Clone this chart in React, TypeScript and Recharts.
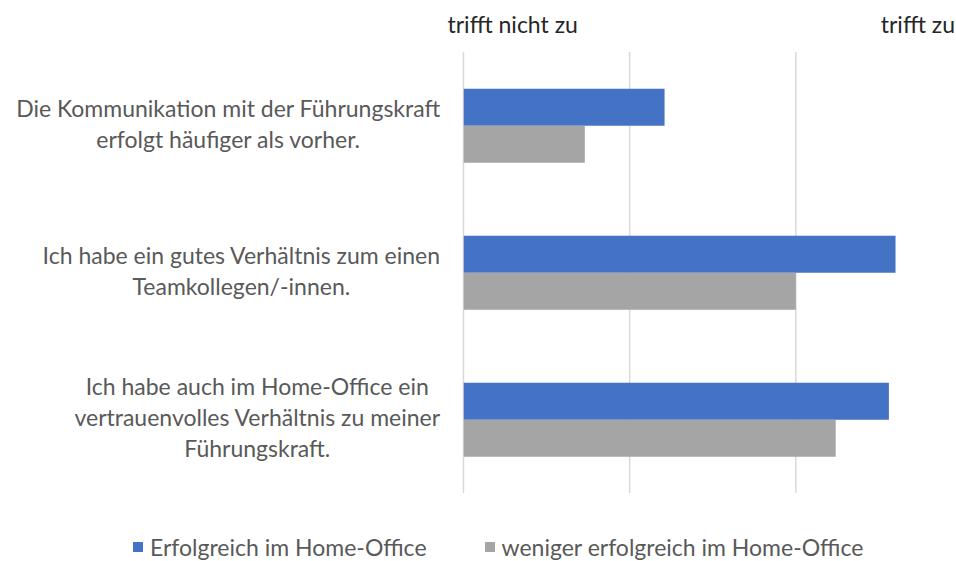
import { Bar, BarChart, CartesianGrid, Legend, XAxis, YAxis } from "recharts";

const categories = [
  "Die Kommunikation mit der Führungskraft\nerfolgt häufiger als vorher.",
  "Ich habe ein gutes Verhältnis zum einen\nTeamkollegen/-innen.",
  "Ich habe auch im Home-Office ein\nvertrauenvolles Verhältnis zu meiner\nFührungskraft.",
];
const seriesNames = ["Erfolgreich im Home-Office", "weniger erfolgreich im Home-Office"];
const successful = [2.21, 3.6, 3.56];
const lessSuccessful = [1.73, 3.0, 3.24];
const gridTicks = [1, 2, 3, 4];
const scaleLabels: Record<number, string> = { 1: "trifft nicht zu", 4: "trifft zu" };

const BLUE = "#4472C4";
const GRAY = "#A5A5A5";
const TEXT = "#595959";
const FONT = "Lato, 'Open Sans', sans-serif";
const FONT_SIZE = 23;
const LINE_H = 31;

const data = categories.map((c, i) => ({
  category: c,
  successful: successful[i],
  lessSuccessful: lessSuccessful[i],
}));

let ctx: CanvasRenderingContext2D | null = null;
function textWidth(s: string) {
  if (!ctx) ctx = document.createElement("canvas").getContext("2d");
  if (!ctx) return s.length * FONT_SIZE * 0.5;
  ctx.font = `${FONT_SIZE}px Lato`;
  return ctx.measureText(s).width;
}

// labels are centred inside a block whose right edge sits next to the plot
function CategoryTick(props: any) {
  const { x, y, payload } = props;
  const lines = String(payload.value).split("\n");
  const w = Math.max(...lines.map(textWidth));
  const cx = x - w / 2;
  const y0 = y - ((lines.length - 1) * LINE_H) / 2 - 1.5;
  return (
    <text x={cx} y={y0} textAnchor="middle" fill={TEXT} fontSize={FONT_SIZE} fontFamily={FONT}>
      {lines.map((l, i) => (
        <tspan key={i} x={cx} y={y0 + i * LINE_H} dy="0.35em">
          {l}
        </tspan>
      ))}
    </text>
  );
}

function ScaleTick(props: any) {
  const { x, payload } = props;
  const label = scaleLabels[payload.value];
  if (!label) return null;
  const first = payload.value === 1;
  return (
    <text
      x={first ? x - 16 : x - 7}
      y={25}
      dy="0.35em"
      textAnchor={first ? "start" : "end"}
      fill="#262626"
      fontSize={FONT_SIZE}
      fontFamily={FONT}
    >
      {label}
    </text>
  );
}

function LegendContent() {
  const colors = [BLUE, GRAY];
  return (
    <div style={{ display: "flex", justifyContent: "flex-start", paddingLeft: 133, gap: 58, paddingTop: 40 }}>
      {seriesNames.map((n, i) => (
        <div key={n} style={{ display: "flex", alignItems: "center", fontFamily: FONT, fontSize: FONT_SIZE, color: TEXT }}>
          <span style={{ width: 10, height: 10, background: colors[i], marginRight: 7, display: "inline-block" }} />
          {n}
        </div>
      ))}
    </div>
  );
}

export default function App() {
  return (
    <div style={{ position: "absolute", left: 0, top: 0, width: 956, height: 561, overflow: "hidden", background: "#fff" }}>
      <BarChart
        width={1000}
        height={561}
        data={data}
        layout="vertical"
        margin={{ top: 0, right: 38, bottom: 0, left: 0 }}
        barCategoryGap="25%"
        barGap={0}
      >
        <CartesianGrid horizontal={false} stroke="#D9D9D9" strokeWidth={1.5} />
        <XAxis type="number" domain={[1, 4]} ticks={gridTicks} hide allowDataOverflow />
        <XAxis
          xAxisId="top"
          orientation="top"
          type="number"
          domain={[1, 4]}
          ticks={[1, 4]}
          height={52}
          axisLine={false}
          tickLine={false}
          tick={<ScaleTick />}
          allowDataOverflow
        />
        <YAxis
          type="category"
          dataKey="category"
          width={463.5}
          axisLine={false}
          tickLine={false}
          tickSize={0}
          tickMargin={23}
          tick={<CategoryTick />}
          interval={0}
        />
        <Legend verticalAlign="bottom" height={68} content={<LegendContent />} />
        <Bar dataKey="successful" name={seriesNames[0]} fill={BLUE} isAnimationActive={false} />
        <Bar dataKey="lessSuccessful" name={seriesNames[1]} fill={GRAY} isAnimationActive={false} />
      </BarChart>
    </div>
  );
}
